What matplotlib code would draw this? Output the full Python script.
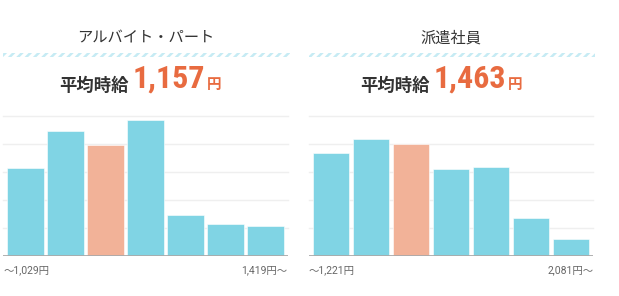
import numpy as np
import matplotlib
matplotlib.use("Agg")
import matplotlib.pyplot as plt
from matplotlib import font_manager
from matplotlib.patches import Rectangle

plt.rcParams["hatch.linewidth"] = 1.8

# data (share per wage band, arbitrary units)
titles = ["アルバイト・パート", "派遣社員"]
averages = ["1,157", "1,463"]
low_labels = ["〜1,029円", "〜1,221円"]
high_labels = ["1,419円〜", "2,081円〜"]
part_values = [3.13, 4.46, 3.96, 4.86, 1.45, 1.14, 1.06]
haken_values = [3.68, 4.18, 3.98, 3.10, 3.17, 1.36, 0.61]
highlight = [2, 2]   # band holding the average

blue = "#80d4e4"
orange_bar = "#f2b298"
orange = "#e86b40"
dark = "#333333"
grey = "#666666"

cjk = "Noto Sans CJK JP"
names = {f.name for f in font_manager.fontManager.ttflist}
num_font = "Roboto"
for cand in ["Roboto Condensed", "Liberation Sans Narrow", "Roboto"]:
    if cand in names:
        num_font = cand
        break

W, H = 619, 296
fig = plt.figure(figsize=(W / 100, H / 100), dpi=100)

def fx(px):
    return px / W

def fy(py):
    return 1 - py / H

panels = [
    dict(x0=3.3, x1=287.7, vals=part_values, avg_x=59),
    dict(x0=309.0, x1=593.3, vals=haken_values, avg_x=360),
]
top, base = 116.0, 255.7

for i, p in enumerate(panels):
    ax = fig.add_axes([fx(p["x0"]), fy(base), fx(p["x1"] - p["x0"]), (base - top) / H])
    vals = p["vals"]
    x = np.arange(len(vals))
    colors = [orange_bar if k == highlight[i] else blue for k in x]
    for g in range(1, 6):
        ax.axhline(g, color="#efefef", lw=1, zorder=0, clip_on=False)
    ax.bar(x, vals, width=0.91, color=colors, edgecolor="#ffffff", linewidth=0.4, zorder=2)
    ax.axhline(0, color="#aaaaaa", lw=1.3, zorder=3)
    ax.set_xlim(-0.55, len(vals) - 0.45)
    ax.set_ylim(0, 5)
    ax.axis("off")

    cx = fx((p["x0"] + p["x1"]) / 2)
    fig.text(cx, fy(38), titles[i], ha="center", va="center",
             fontsize=11, color=dark, family=[cjk])

    # striped divider
    fig.patches.append(Rectangle((fx(p["x0"]), fy(57)), fx(p["x1"] + 2 - p["x0"]), 4 / H,
                                 transform=fig.transFigure, facecolor="none",
                                 edgecolor="#c6ebf4", hatch="////", linewidth=0))

    t1 = fig.text(fx(p["avg_x"]), fy(90.5), "平均時給", ha="left", va="baseline",
                  fontsize=12.5, fontweight="bold", color=dark, family=[cjk])
    n = fig.add_artist(plt.Annotation(averages[i], xy=(1, 0), xycoords=t1,
                                      xytext=(3, 1), textcoords="offset points",
                                      fontsize=23, fontweight="black", color=orange,
                                      family=[num_font], va="bottom", ha="left"))
    fig.add_artist(plt.Annotation("円", xy=(1, 0), xycoords=n,
                                  xytext=(1.5, 1), textcoords="offset points",
                                  fontsize=10.5, fontweight="bold", color=orange,
                                  family=[cjk], va="bottom", ha="left"))

    fig.text(fx(p["x0"]), fy(270), low_labels[i], ha="left", va="center",
             fontsize=7.5, color=grey, family=["Roboto", cjk])
    fig.text(fx(p["x1"]), fy(270), high_labels[i], ha="right", va="center",
             fontsize=7.5, color=grey, family=["Roboto", cjk])

fig.savefig("out.png", dpi=100)
